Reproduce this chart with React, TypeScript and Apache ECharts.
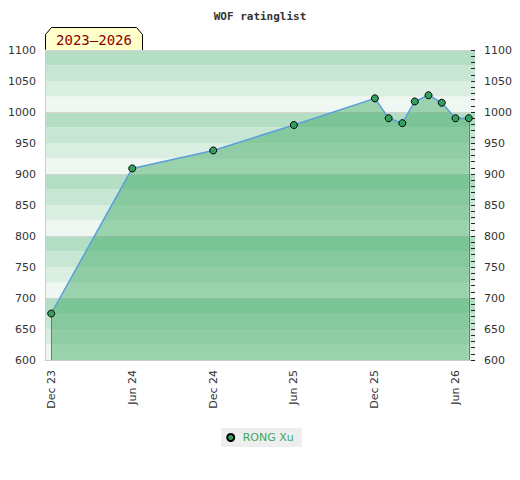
import React, { useEffect, useRef } from "react";
import * as echarts from "echarts";

// ---- data ----
const months: string[] = [
  "2023-12", "2024-06", "2024-12", "2025-06", "2025-12", "2026-01",
  "2026-02", "2026-03", "2026-04", "2026-05", "2026-06", "2026-07",
];
const ratings: number[] = [675, 909, 938, 979, 1022, 990, 982, 1017, 1027, 1015, 990, 990];
const xTickMonths: string[] = ["2023-12", "2024-06", "2024-12", "2025-06", "2025-12", "2026-06"];
const monthNames: string[] = ["Jan", "Feb", "Mar", "Apr", "May", "Jun", "Jul", "Aug", "Sep", "Oct", "Nov", "Dec"];
const playerName = "RONG Xu";
const titleText = "WOF ratinglist";
const rangeText = "2023\u20132026";
const yMin = 600;
const yMax = 1100;

const stripeColors = ["#eef7f1", "#dbeee2", "#c8e6d4", "#b3dec3"];

const toTs = (m: string) => {
  const [y, mo] = m.split("-").map(Number);
  return Date.UTC(y, mo - 1, 1);
};

export default function App() {
  const ref = useRef<HTMLDivElement>(null);
  useEffect(() => {
    if (!ref.current) return;
    const chart = echarts.init(ref.current, undefined, { renderer: "svg" });
    const DAY = 864e5;
    const data = months.map((m, i) => [toTs(m), ratings[i]]);
    const firstTs = toTs(months[0]);
    const lastTs = toTs(months[months.length - 1]);
    const green = "#3aa862";
    const axisFont = { fontFamily: "DejaVu Sans", fontSize: 11, color: "#333" };

    chart.setOption({
      animation: false,
      backgroundColor: "#fff",
      title: {
        text: titleText,
        left: "center",
        top: 6,
        textStyle: { fontFamily: "DejaVu Sans Mono", fontSize: 11, fontWeight: "bold", color: "#333" },
      },
      grid: { left: 45, right: 45, top: 50, bottom: 120, containLabel: false },
      legend: {
        bottom: 33,
        left: "center",
        icon: "circle",
        itemWidth: 14,
        itemHeight: 7,
        backgroundColor: "#eeeeee",
        padding: [4, 8, 4, 5],
        textStyle: { fontFamily: "DejaVu Sans", fontSize: 11, color: green },
        data: [playerName],
      },
      xAxis: {
        type: "value",
        min: firstTs - 14 * DAY,
        max: lastTs + 14 * DAY,
        axisLine: { show: true, lineStyle: { color: "#cccccc" } },
        axisTick: { show: false },
        splitLine: { show: false },
        axisLabel: {
          ...axisFont,
          rotate: 90,
          margin: 10,
          showMinLabel: true,
          showMaxLabel: true,
          customValues: xTickMonths.map(toTs),
          formatter: (v: number) => {
            const d = new Date(v);
            return monthNames[d.getUTCMonth()] + " " + String(d.getUTCFullYear()).slice(2);
          },
        },
      },
      yAxis: [
        {
          type: "value",
          position: "left",
          min: yMin,
          max: yMax,
          interval: 50,
          axisLine: { show: true, lineStyle: { color: "#cccccc" } },
          axisTick: { show: false },
          splitLine: { show: false },
          axisLabel: { ...axisFont, margin: 9, formatter: (v: number) => String(v) },
        },
        {
          type: "value",
          position: "right",
          min: yMin,
          max: yMax,
          interval: 50,
          axisLine: { show: false },
          axisTick: { show: true, inside: true, length: 4, lineStyle: { color: "#222" } },
          minorTick: { show: true, splitNumber: 5, length: 4, lineStyle: { color: "#222" } },
          splitLine: { show: false },
          axisLabel: { ...axisFont, margin: 9, formatter: (v: number) => String(v) },
        },
        {
          type: "value",
          position: "left",
          min: yMin,
          max: yMax,
          interval: 25,
          axisLine: { show: false },
          axisTick: { show: false },
          axisLabel: { show: false },
          splitLine: { show: false },
          splitArea: { show: true, areaStyle: { color: stripeColors } },
        },
        {
          type: "value",
          position: "left",
          min: yMin,
          max: yMax,
          interval: 100,
          axisLine: { show: false },
          axisTick: { show: false },
          axisLabel: { show: false },
          splitLine: { show: true, lineStyle: { color: "#d4d4d4", width: 1 } },
        },
      ],
      series: [
        {
          name: playerName,
          type: "line",
          yAxisIndex: 0,
          z: 5,
          data,
          symbol: "circle",
          symbolSize: 7,
          showSymbol: true,
          lineStyle: { color: "#5a9fdc", width: 1.5 },
          itemStyle: { color: "#33a060", borderColor: "#000", borderWidth: 1 },
          areaStyle: { color: "rgba(59,168,98,0.47)", opacity: 1, origin: "start" },
          markLine: {
            silent: true,
            symbol: "none",
            label: { show: false },
            lineStyle: { color: "#2e9a55", width: 1, type: "solid" },
            data: [
              [{ coord: [firstTs, yMin] }, { coord: [firstTs, ratings[0]] }],
              [{ coord: [lastTs, yMin] }, { coord: [lastTs, ratings[ratings.length - 1]] }],
            ],
          },
        },
      ],
      graphic: [
        {
          type: "group",
          left: 45,
          top: 27,
          children: [
            {
              type: "polygon",
              shape: { points: [[0, 7], [6, 0], [91, 0], [97, 7], [97, 23], [0, 23]] },
              style: { fill: "#ffffcc", stroke: "#000", lineWidth: 1 },
            },
            {
              type: "text",
              x: 48.5,
              y: 12.5,
              style: {
                text: rangeText,
                fill: "#8b0000",
                font: "14px 'DejaVu Sans Mono'",
                align: "center",
                verticalAlign: "middle",
              },
            },
          ],
        },
      ],
    });
    return () => chart.dispose();
  }, []);
  return <div ref={ref} style={{ position: "fixed", left: 0, top: 0, width: 520, height: 480 }} />;
}
